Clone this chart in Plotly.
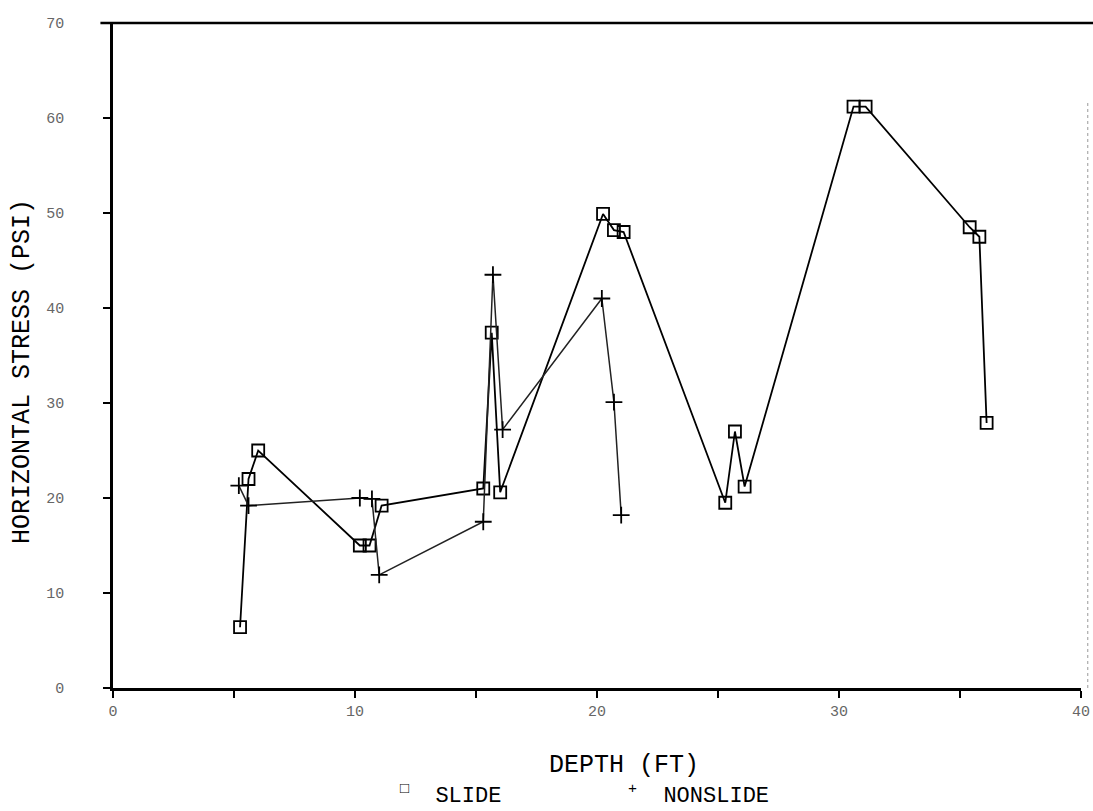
import plotly.graph_objects as go

# SLIDE series (open squares)
slide_depth = [5.25, 5.6, 6.0, 10.2, 10.6, 11.1, 15.3, 15.65, 16.0, 20.25, 20.7, 21.1,
               25.3, 25.7, 26.1, 30.6, 31.1, 35.4, 35.8, 36.1]
slide_stress = [6.4, 22.0, 25.0, 15.0, 15.0, 19.2, 21.0, 37.4, 20.6, 49.9, 48.2, 48.0,
                19.5, 27.0, 21.2, 61.2, 61.2, 48.5, 47.5, 27.9]

# NONSLIDE series (plus markers)
nonslide_depth = [5.2, 5.6, 10.2, 10.7, 11.0, 15.3, 15.7, 16.1, 20.2, 20.7, 21.0]
nonslide_stress = [21.3, 19.2, 20.0, 19.9, 11.9, 17.5, 43.5, 27.2, 41.0, 30.1, 18.2]

x_tickvals = [0, 10, 20, 30, 40]
x_ticktext = ["0", "10", "20", "30", "40"]
x_minor_tickvals = [5, 15, 25, 35]
y_tickvals = [0, 10, 20, 30, 40, 50, 60, 70]
y_ticktext = ["0", "10", "20", "30", "40", "50", "60", "70"]

L, R, T, B = 113, 12, 23, 123
W, H = 1093, 811
pw, ph = W - L - R, H - T - B

fig = go.Figure()
fig.add_trace(go.Scatter(
    x=slide_depth, y=slide_stress, mode="lines+markers", name="SLIDE",
    line=dict(color="black", width=1.8),
    marker=dict(symbol="square-open", size=12, color="black", line=dict(width=1.8)),
))
fig.add_trace(go.Scatter(
    x=nonslide_depth, y=nonslide_stress, mode="lines+markers", name="NONSLIDE",
    line=dict(color="#222", width=1.5),
    marker=dict(symbol="cross-thin-open", size=12, color="black", line=dict(width=1.8, color="black")),
))

tickfont = dict(family="Liberation Mono", size=15, color="#666")
fig.update_xaxes(range=[0, 40], tickvals=x_tickvals, ticktext=x_ticktext,
                 ticks="outside", ticklen=7, tickwidth=1.5, tickcolor="black",
                 minor=dict(tickvals=x_minor_tickvals, ticks="outside", ticklen=7,
                            tickwidth=1.5, tickcolor="black", showgrid=False),
                 showline=True, linecolor="black", linewidth=2.5, automargin=False,
                 showgrid=False, zeroline=False, tickfont=tickfont, ticklabelstandoff=0)
fig.update_yaxes(range=[0, 70], tickvals=y_tickvals, ticktext=y_ticktext,
                 ticks="outside", ticklen=7, tickwidth=1.5, tickcolor="black",
                 showline=True, linecolor="black", linewidth=2.5, automargin=False,
                 showgrid=False, zeroline=False, tickfont=tickfont, ticklabelstandoff=36)

# top border and faint dotted right border
fig.add_shape(type="line", xref="paper", yref="paper", x0=-0.013, x1=1.013, y0=1, y1=1,
              line=dict(color="black", width=2.5))
fig.add_shape(type="line", xref="paper", yref="paper", x0=1.007, x1=1.007, y0=0, y1=0.88,
              line=dict(color="#999", width=1, dash="dot"))

def px(xp):
    return (xp - L) / pw

def py(yp):
    return (H - B - yp) / ph

titlefont = dict(family="Liberation Mono", size=25, color="black")
legfont = dict(family="Liberation Mono", size=22, color="black")
fig.add_annotation(text="HORIZONTAL STRESS (PSI)", textangle=-90, xref="paper", yref="paper",
                   x=px(22), y=py(372), showarrow=False, font=titlefont,
                   xanchor="center", yanchor="middle")
fig.add_annotation(text="DEPTH (FT)", xref="paper", yref="paper",
                   x=px(624), y=py(765), showarrow=False, font=titlefont,
                   xanchor="center", yanchor="middle")
# legend
fig.add_annotation(text="<sup><span style='font-size:15px'>□</span></sup>  SLIDE",
                   xref="paper", yref="paper", x=px(398), y=py(795), showarrow=False,
                   font=legfont, xanchor="left", yanchor="middle")
fig.add_annotation(text="<sup><span style='font-size:15px'>+</span></sup>  NONSLIDE",
                   xref="paper", yref="paper", x=px(626), y=py(795), showarrow=False,
                   font=legfont, xanchor="left", yanchor="middle")

fig.update_layout(width=W, height=H, margin=dict(l=L, r=R, t=T, b=B),
                  paper_bgcolor="white", plot_bgcolor="white", showlegend=False)

fig.write_html("out.html")
